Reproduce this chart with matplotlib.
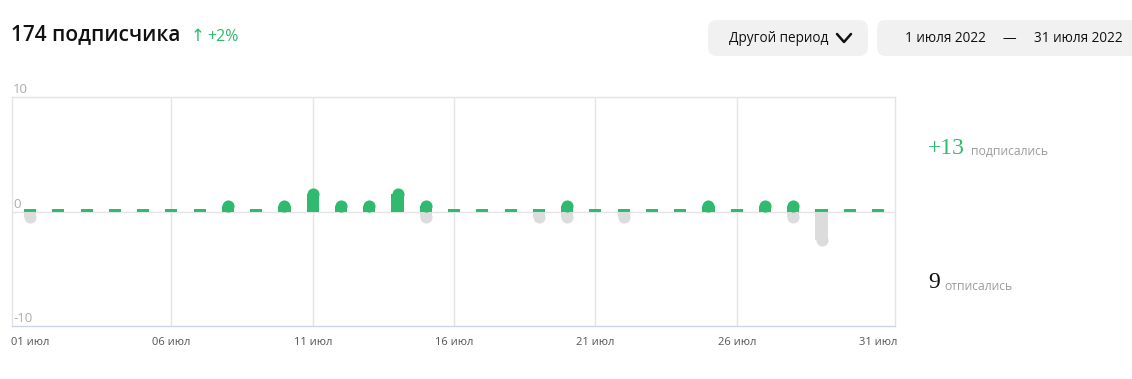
import matplotlib.pyplot as plt
from matplotlib.patches import FancyBboxPatch

# Subscriber stats, July 2022
days = list(range(1, 32))
subscribed = [0, 0, 0, 0, 0, 0, 0, 1, 0, 1, 2, 1, 1, 2, 1, 0,
              0, 0, 0, 1, 0, 0, 0, 0, 1, 0, 1, 1, 0, 0, 0]
unsubscribed = [1, 0, 0, 0, 0, 0, 0, 0, 0, 0, 0, 0, 0, 0, 1, 0,
                0, 0, 1, 1, 0, 1, 0, 0, 0, 0, 0, 1, 3, 0, 0]
tick_days = [1, 6, 11, 16, 21, 26, 31]
tick_labels = ['01 июл', '06 июл', '11 июл', '16 июл', '21 июл', '26 июл', '31 июл']
y_labels = [10, 0, -10]

total = '174 подписчика'
growth = '+2%'
period_btn = 'Другой период'
date_from = '1 июля 2022'
date_to = '31 июля 2022'

GREEN = '#2fba6f'
GRAY_BAR = '#dcdcdc'
GRID = '#e4e4e4'

W, H = 1132, 379
fig = plt.figure(figsize=(W / 100, H / 100), dpi=100)

# overlay in pixel coordinates for header, buttons and side totals
bg = fig.add_axes([0, 0, 1, 1], zorder=0)
bg.set_xlim(0, W)
bg.set_ylim(H, 0)
bg.axis('off')

font = ['Open Sans', 'DejaVu Sans']
bg.text(11, 35, total, fontsize=15, fontweight='semibold', family=font,
        color='#111111', va='center', ha='left')
bg.text(191, 36, '↑', fontsize=12, family=['DejaVu Sans'], color=GREEN,
        va='center', ha='left')
bg.text(207, 37, growth, fontsize=11.5, family=font, color=GREEN, va='center', ha='left')

for x0, x1 in [(708, 868), (877, 1160)]:
    bg.add_patch(FancyBboxPatch((x0, 20), x1 - x0, 36,
                                boxstyle='round,pad=0,rounding_size=9',
                                fc='#f1f1f1', ec='none'))
bg.text(729, 38.5, period_btn, fontsize=9.8, family=font, color='#111111',
        va='center', ha='left')
bg.plot([837, 844, 851], [34, 42, 34], color='#111111', lw=1.8,
        solid_capstyle='round', solid_joinstyle='round')
bg.text(905, 38.5, date_from, fontsize=9.8, family=font, color='#111111',
        va='center', ha='left')
bg.text(1009.5, 38.5, '—', fontsize=9.8, family=font, color='#111111',
        va='center', ha='center')
bg.text(1034, 38.5, date_to, fontsize=9.8, family=font, color='#111111',
        va='center', ha='left')

serif = ['Liberation Serif', 'DejaVu Serif']
bg.text(928, 149, '+' + str(sum(subscribed)), fontsize=17, family=serif,
        color=GREEN, va='center', ha='left')
bg.text(971, 151, 'подписались', fontsize=8.7, family=font, color='#9b9b9b',
        va='center', ha='left')
bg.text(928, 282, str(sum(unsubscribed)), fontsize=17, family=serif,
        color='#111111', va='center', ha='left')
bg.text(944, 286, 'отписались', fontsize=8.7, family=font, color='#9b9b9b',
        va='center', ha='left')

# chart
ax = fig.add_axes([12 / W, 1 - 326 / H, (895 - 12) / W, (326 - 97) / H], zorder=1)
ax.patch.set_alpha(0)
ax.set_xlim(0.36, 31.6)
ax.set_ylim(-10, 10)

for d in tick_days[1:-1]:
    ax.axvline(d, color=GRID, lw=1, zorder=0)
ax.axhline(0, color=GRID, lw=1, zorder=0)

bw = 0.43          # bar width in days
r = 0.5            # cap radius in y units
cap = 76           # marker area for the round caps

# unsubscribed go down, grey
for d, v in zip(days, unsubscribed):
    if v > 0:
        ax.bar(d, -(v - r), width=bw, color=GRAY_BAR, lw=0, zorder=2)
        ax.scatter(d, -(v - r), s=cap, color=GRAY_BAR, lw=0, zorder=2)

# subscribed go up, green; zero days get a flat stub
for d, v in zip(days, subscribed):
    if v > 0:
        ax.bar(d, v - r, width=bw, color=GREEN, lw=0, zorder=3)
        ax.scatter(d, v - r, s=cap, color=GREEN, lw=0, zorder=3)
    else:
        ax.bar(d, 0.24, width=bw, color=GREEN, lw=0, zorder=3)

for s in ['left', 'right', 'top']:
    ax.spines[s].set_color(GRID)
    ax.spines[s].set_linewidth(1)
ax.spines['bottom'].set_color('#c9d5e9')
ax.spines['bottom'].set_linewidth(1)

ax.set_yticks([])
ax.set_xticks(tick_days)
ax.set_xticklabels(tick_labels, fontsize=8, family=font, color='#555555')
ax.tick_params(axis='x', length=0, pad=8)

for v in y_labels:
    ax.text(0.4, v + 0.05, str(v), fontsize=9.5, family=font, color='#ababab',
            ha='left', va='bottom', clip_on=False)

fig.savefig('out.png', dpi=100)
